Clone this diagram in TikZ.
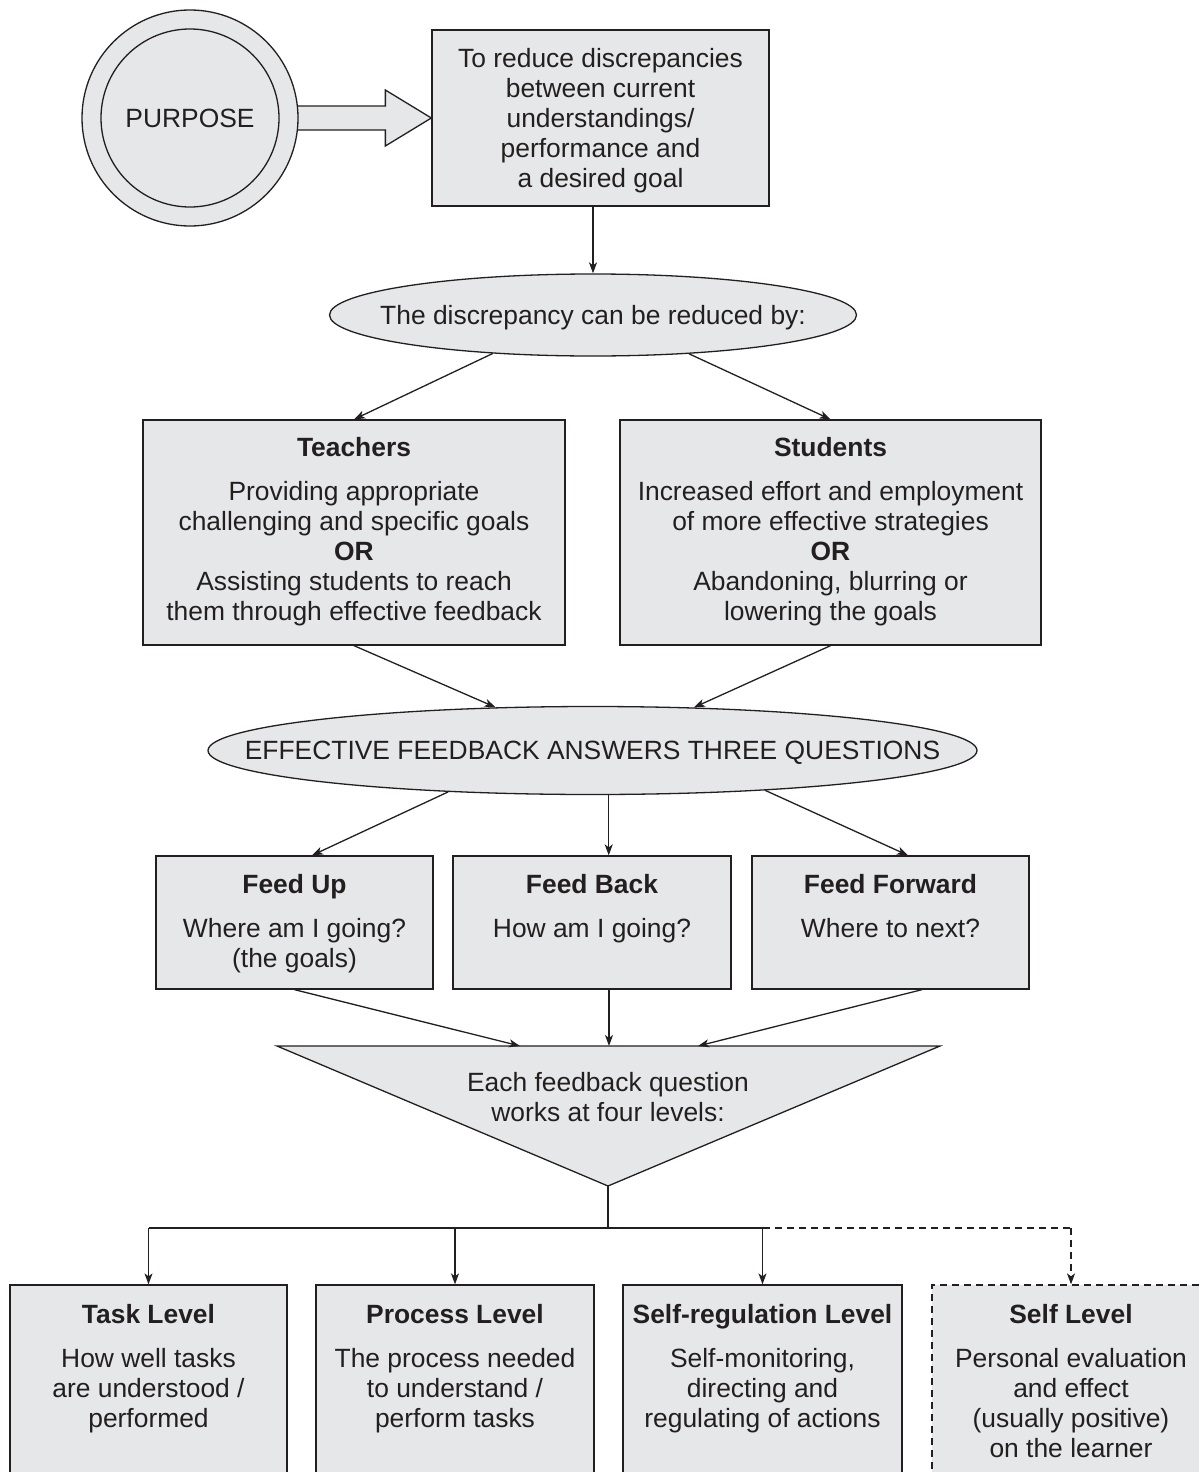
\documentclass[tikz,border=0pt]{standalone}
\usepackage{fontspec}
\setmainfont{Liberation Sans}
\usetikzlibrary{shapes.geometric,arrows.meta,calc}
\definecolor{boxfill}{HTML}{E6E7E8}
\definecolor{ink}{HTML}{231F20}
\begin{document}
\begin{tikzpicture}[x=1pt,y=-1pt,
  box/.style={draw=ink, fill=boxfill, line width=1.3pt, rectangle, inner sep=0pt},
  dashbox/.style={box, dash pattern=on 7pt off 5pt},
  ell/.style={draw=ink, fill=boxfill, line width=1.3pt, ellipse, inner sep=0pt},
  txt/.style={text=ink, align=center, font=\fontsize{26.4}{30}\selectfont, inner sep=0pt, anchor=north},
  conn/.style={draw=ink, line width=1.3pt, -{Stealth[length=11pt,width=8pt,inset=3pt]}},
  plain/.style={draw=ink, line width=1.3pt},
  dashline/.style={dash pattern=on 7pt off 5pt}
]
\useasboundingbox (0,0) rectangle (1199,1472);
\clip (0,0) rectangle (1199,1472);

% top box
\node[box, minimum width=337pt, minimum height=176pt] (goal) at (600.5,118) {};
\node[txt] (goaltxt) at ($(goal.north)+(0,18.5)$) {To reduce discrepancies\\between current\\understandings/\\performance and\\a desired goal};

% block arrow
\draw[plain, fill=boxfill] ($(goal.west)+(-150,-12)$) -- ($(goal.west)+(-46,-12)$) -- ($(goal.west)+(-46,-28)$)
  -- (goal.west) -- ($(goal.west)+(-46,28)$) -- ($(goal.west)+(-46,12)$) -- ($(goal.west)+(-150,12)$) -- cycle;

% purpose circle
\node[circle, draw=ink, fill=boxfill, line width=1.3pt, minimum size=216pt, inner sep=0pt, text=ink,
  font=\fontsize{26.4}{30}\selectfont] (purpose) at (190,118) {PURPOSE};
\draw[plain] (purpose.center) circle[radius=89pt];

% ellipse 1
\node[ell, minimum width=527pt, minimum height=82pt] (e1) at (593,315) {};
\node[txt, anchor=base] (e1txt) at ($(e1.center)+(0,9.5)$) {The discrepancy can be reduced by:};

% teachers / students
\node[box, minimum width=422pt, minimum height=225pt] (teach) at (354,532.5) {};
\node[txt] (teachtxt) at ($(teach.north)+(0,17.5)$) {\textbf{Teachers}\\[14pt]Providing appropriate\\challenging and specific goals\\\textbf{OR}\\Assisting students to reach\\them through effective feedback};
\node[box, minimum width=421pt, minimum height=225pt] (stud) at (830.5,532.5) {};
\node[txt] (studtxt) at ($(stud.north)+(0,17.5)$) {\textbf{Students}\\[14pt]Increased effort and employment\\of more effective strategies\\\textbf{OR}\\Abandoning, blurring or\\lowering the goals};

% ellipse 2
\node[ell, minimum width=769pt, minimum height=88pt] (e2) at (592.5,750.5) {};
\node[txt, anchor=base] (e2txt) at ($(e2.center)+(0,9)$) {EFFECTIVE FEEDBACK ANSWERS THREE QUESTIONS};

% feed boxes
\node[box, minimum width=277pt, minimum height=133pt] (fu) at (294.5,922.5) {};
\node[txt] (futxt) at ($(fu.north)+(0,18.5)$) {\textbf{Feed Up}\\[14pt]Where am I going?\\(the goals)};
\node[box, minimum width=278pt, minimum height=133pt] (fb) at (592,922.5) {};
\node[txt] (fbtxt) at ($(fb.north)+(0,18.5)$) {\textbf{Feed Back}\\[14pt]How am I going?};
\node[box, minimum width=277pt, minimum height=133pt] (ff) at (890.5,922.5) {};
\node[txt] (fftxt) at ($(ff.north)+(0,18.5)$) {\textbf{Feed Forward}\\[14pt]Where to next?};

% triangle
\coordinate (tl) at (277,1046);
\coordinate (tr) at (940,1046);
\coordinate (tb) at (608,1186);
\coordinate (ta1) at (520,1046);
\coordinate (ta2) at (609,1046);
\coordinate (ta3) at (698,1046);
\draw[plain, fill=boxfill, line join=miter] (tl) -- (tr) -- (tb) -- cycle;
\node[txt] (tritxt) at (608,1072.5) {Each feedback question\\works at four levels:};

% bottom boxes
\node[box, minimum width=277pt, minimum height=215pt] (task) at (148.5,1392.5) {};
\node[txt] (tasktxt) at ($(task.north)+(0,19.5)$) {\textbf{Task Level}\\[14pt]How well tasks\\are understood /\\performed};
\node[box, minimum width=278pt, minimum height=215pt] (proc) at (455,1392.5) {};
\node[txt] (proctxt) at ($(proc.north)+(0,19.5)$) {\textbf{Process Level}\\[14pt]The process needed\\to understand /\\perform tasks};
\node[box, minimum width=279pt, minimum height=215pt] (sreg) at (762.5,1392.5) {};
\node[txt] (sregtxt) at ($(sreg.north)+(0,19.5)$) {\textbf{Self-regulation Level}\\[14pt]Self-monitoring,\\directing and\\regulating of actions};
\node[dashbox, minimum width=278pt, minimum height=215pt] (self) at (1071,1392.5) {};
\node[txt] (selftxt) at ($(self.north)+(0,19.5)$) {\textbf{Self Level}\\[14pt]Personal evaluation\\and effect\\(usually positive)\\on the learner};

% connectors
\draw[conn] (e1.north |- goal.south) -- (e1.north);
\draw[conn] (e1.201.7) -- (teach.north);
\draw[conn] (e1.338.1) -- (stud.north);
\draw[conn] (teach.south) -- (e2.156.4);
\draw[conn] (stud.south) -- (e2.23.6);
\draw[conn] (e2.196.4) -- ($(fu.north)+(17.5,0)$);
\draw[conn] (e2.290.6) -- (e2.290.6 |- fb.north);
\draw[conn] (e2.347) -- ($(ff.north)+(17.5,0)$);
\draw[conn] (fu.south) -- (ta1);
\draw[conn] (fb.south -| ta2) -- (ta2);
\draw[conn] ($(ff.south)+(31.5,0)$) -- (ta3);

\coordinate (hub) at (608,1228);
\draw[plain] (tb) -- (hub);
\draw[plain] (task.north |- hub) -- (sreg.north |- hub);
\draw[plain, dashline] (sreg.north |- hub) -- (self.north |- hub);
\draw[conn] (task.north |- hub) -- (task.north);
\draw[conn] (proc.north |- hub) -- (proc.north);
\draw[conn] (sreg.north |- hub) -- (sreg.north);
\draw[conn, dashline] (self.north |- hub) -- (self.north);
\end{tikzpicture}
\end{document}
